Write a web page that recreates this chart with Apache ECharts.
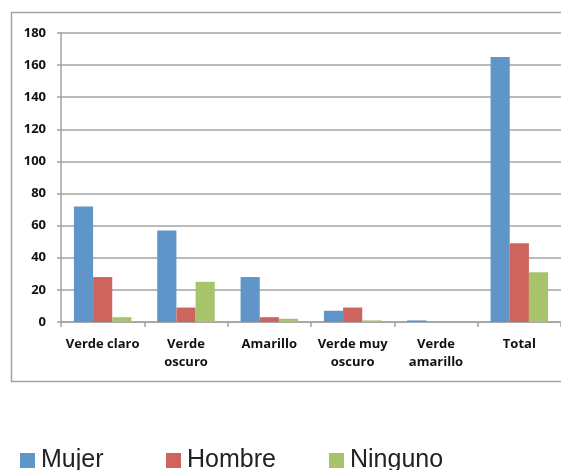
<!DOCTYPE html>
<html>
<head>
<meta charset="utf-8">
<script src="https://cdn.jsdelivr.net/npm/echarts@6/dist/echarts.min.js"></script>
<style>
  html, body { margin: 0; padding: 0; background: #fff; }
  #chart { width: 561px; height: 470px; }
</style>
</head>
<body>
<div id="chart"></div>
<script>
// Categories along the x axis (line breaks as they appear under the axis)
var categories = ['Verde claro', 'Verde\noscuro', 'Amarillo', 'Verde muy\noscuro', 'Verde\namarillo', 'Total'];

// Counts per group
var mujer   = [72, 57, 28, 7, 1, 165];
var hombre  = [28, 9, 3, 9, 0, 49];
var ninguno = [3, 25, 2, 1, 0, 31];

var seriesNames = ['Mujer', 'Hombre', 'Ninguno'];
var seriesColors = ['#5F95C8', '#CD645E', '#A8C46A'];

// Value axis range
var yMin = 0, yMax = 180, yStep = 20;

var chart = echarts.init(document.getElementById('chart'), null, { renderer: 'canvas' });

var grey = '#A3A3A3';
var labelFont = { fontFamily: 'Open Sans', fontWeight: 'bold', fontSize: 13, color: '#111' };

function legendAt(name, left) {
  return {
    data: [name],
    left: left,
    top: 448,
    icon: 'rect',
    itemWidth: 15,
    itemHeight: 15,
    itemGap: 0,
    padding: 0,
    selectedMode: false,
    textStyle: { fontFamily: 'Liberation Sans', fontSize: 25, color: '#222', padding: [0, 0, 0, 1] }
  };
}

chart.setOption({
  animation: false,
  backgroundColor: '#fff',
  graphic: [{
    type: 'rect',
    shape: { x: 11.5, y: 12.5, width: 600, height: 369 },
    style: { fill: 'none', stroke: grey, lineWidth: 1.5 },
    silent: true
  }],
  legend: [
    legendAt(seriesNames[0], 20),
    legendAt(seriesNames[1], 166),
    legendAt(seriesNames[2], 329)
  ],
  grid: { left: 61, right: -1, top: 33, bottom: 148, containLabel: false },
  xAxis: {
    type: 'category',
    data: categories,
    axisLine: { show: true, lineStyle: { color: grey, width: 1.5 } },
    axisTick: { show: true, length: 5, lineStyle: { color: grey, width: 1.5 } },
    axisLabel: Object.assign({ margin: 13, lineHeight: 18, interval: 0 }, labelFont)
  },
  yAxis: {
    type: 'value',
    min: yMin,
    max: yMax,
    interval: yStep,
    axisLine: { show: true, lineStyle: { color: grey, width: 1.5 } },
    axisTick: { show: true, length: 4, lineStyle: { color: grey, width: 1.5 } },
    splitLine: { show: true, lineStyle: { color: grey, width: 1.5 } },
    axisLabel: Object.assign({ margin: 15 }, labelFont)
  },
  series: [
    { name: seriesNames[0], type: 'bar', data: mujer,   itemStyle: { color: seriesColors[0] }, barGap: '0%', barCategoryGap: '31%' },
    { name: seriesNames[1], type: 'bar', data: hombre,  itemStyle: { color: seriesColors[1] }, barGap: '0%', barCategoryGap: '31%' },
    { name: seriesNames[2], type: 'bar', data: ninguno, itemStyle: { color: seriesColors[2] }, barGap: '0%', barCategoryGap: '31%' }
  ]
});
</script>
</body>
</html>
